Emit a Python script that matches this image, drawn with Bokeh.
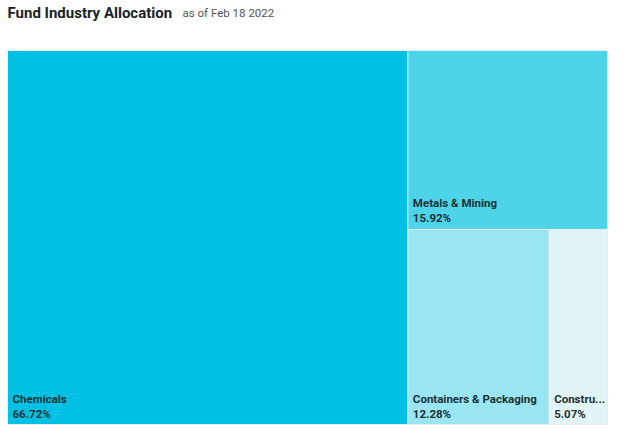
from bokeh.plotting import figure
from bokeh.models import Range1d, ColumnDataSource
from bokeh.core.properties import value
from bokeh.embed import file_html
from bokeh.resources import INLINE

# ---- data ----
categories = ["Chemicals", "Metals & Mining", "Containers & Packaging", "Construction Materials"]
weights = [66.72, 15.92, 12.28, 5.07]
colors = ["#00C1E4", "#4DD4E9", "#99E5F1", "#E3F4F7"]
title_text = "Fund Industry Allocation"
subtitle_text = "as of Feb 18 2022"

W, H = 600.0, 374.0  # treemap extent in data units


def worst(row, side):
    s = sum(row)
    rmax, rmin = max(row), min(row)
    return max(side * side * rmax / (s * s), (s * s) / (side * side * rmin))


def squarify(vals, x, y, w, h):
    total = sum(vals)
    areas = [v / total * w * h for v in vals]
    rects = []

    def layout(row, x, y, w, h):
        s = sum(row)
        out = []
        if w >= h:  # vertical column on the left
            cw = s / h
            yy = y + h
            for a in row:
                hh = a / cw
                out.append((x, yy - hh, cw, hh))
                yy -= hh
            return out, (x + cw, y, w - cw, h)
        else:  # horizontal row on top
            rh = s / w
            xx = x
            for a in row:
                ww = a / rh
                out.append((xx, y + h - rh, ww, rh))
                xx += ww
            return out, (x, y, w, h - rh)

    i = 0
    while i < len(areas):
        side = min(w, h)
        row = [areas[i]]
        i += 1
        while i < len(areas) and worst(row + [areas[i]], side) <= worst(row, side):
            row.append(areas[i])
            i += 1
        out, (x, y, w, h) = layout(row, x, y, w, h)
        rects.extend(out)
    return rects


rects = squarify(weights, 0.0, 0.0, W, H)

xs = [r[0] + r[2] / 2 for r in rects]
ys = [r[1] + r[3] / 2 for r in rects]
ws = [r[2] for r in rects]
hs = [r[3] for r in rects]

CHAR_W = 5.6
names = []
for name, r in zip(categories, rects):
    avail = r[2] - 10
    if len(name) * CHAR_W > avail:
        n = int(avail / CHAR_W) - 1
        name = name[:n] + "..."
    names.append(name)

src = ColumnDataSource(dict(x=xs, y=ys, w=ws, h=hs, color=colors,
                            lx=[r[0] + 5 for r in rects],
                            ny=[r[1] + 26 for r in rects],
                            vy=[r[1] + 11 for r in rects],
                            name=names,
                            val=["%.2f%%" % v for v in weights]))

p = figure(width=615, height=430, output_backend="svg", toolbar_location=None,
           x_range=Range1d(-7, 608), y_range=Range1d(-6, 424),
           min_border=0, outline_line_color=None)
p.axis.visible = False
p.grid.visible = False
p.background_fill_color = "white"
p.border_fill_color = "white"

p.rect(x="x", y="y", width="w", height="h", source=src, fill_color="color",
       line_color="#E4EEF0", line_width=1)

p.text(x="lx", y="ny", text="name", source=src, text_font=value("Roboto"),
       text_font_style="bold", text_font_size="11.5px", text_color="#1E3033",
       text_baseline="alphabetic")
p.text(x="lx", y="vy", text="val", source=src, text_font=value("Roboto"),
       text_font_style="bold", text_font_size="11.5px", text_color="#1E3033",
       text_baseline="alphabetic")

p.text(x=[0], y=[411.5], text=[title_text], text_font=value("Roboto"),
       text_font_style="bold", text_font_size="15px", text_color="#1A2426",
       text_baseline="alphabetic")
p.text(x=[175], y=[411.5], text=[subtitle_text], text_font=value("Roboto"),
       text_font_size="11.5px", text_color="#555555",
       text_baseline="alphabetic")

open("out.html", "w").write(file_html(p, INLINE))
